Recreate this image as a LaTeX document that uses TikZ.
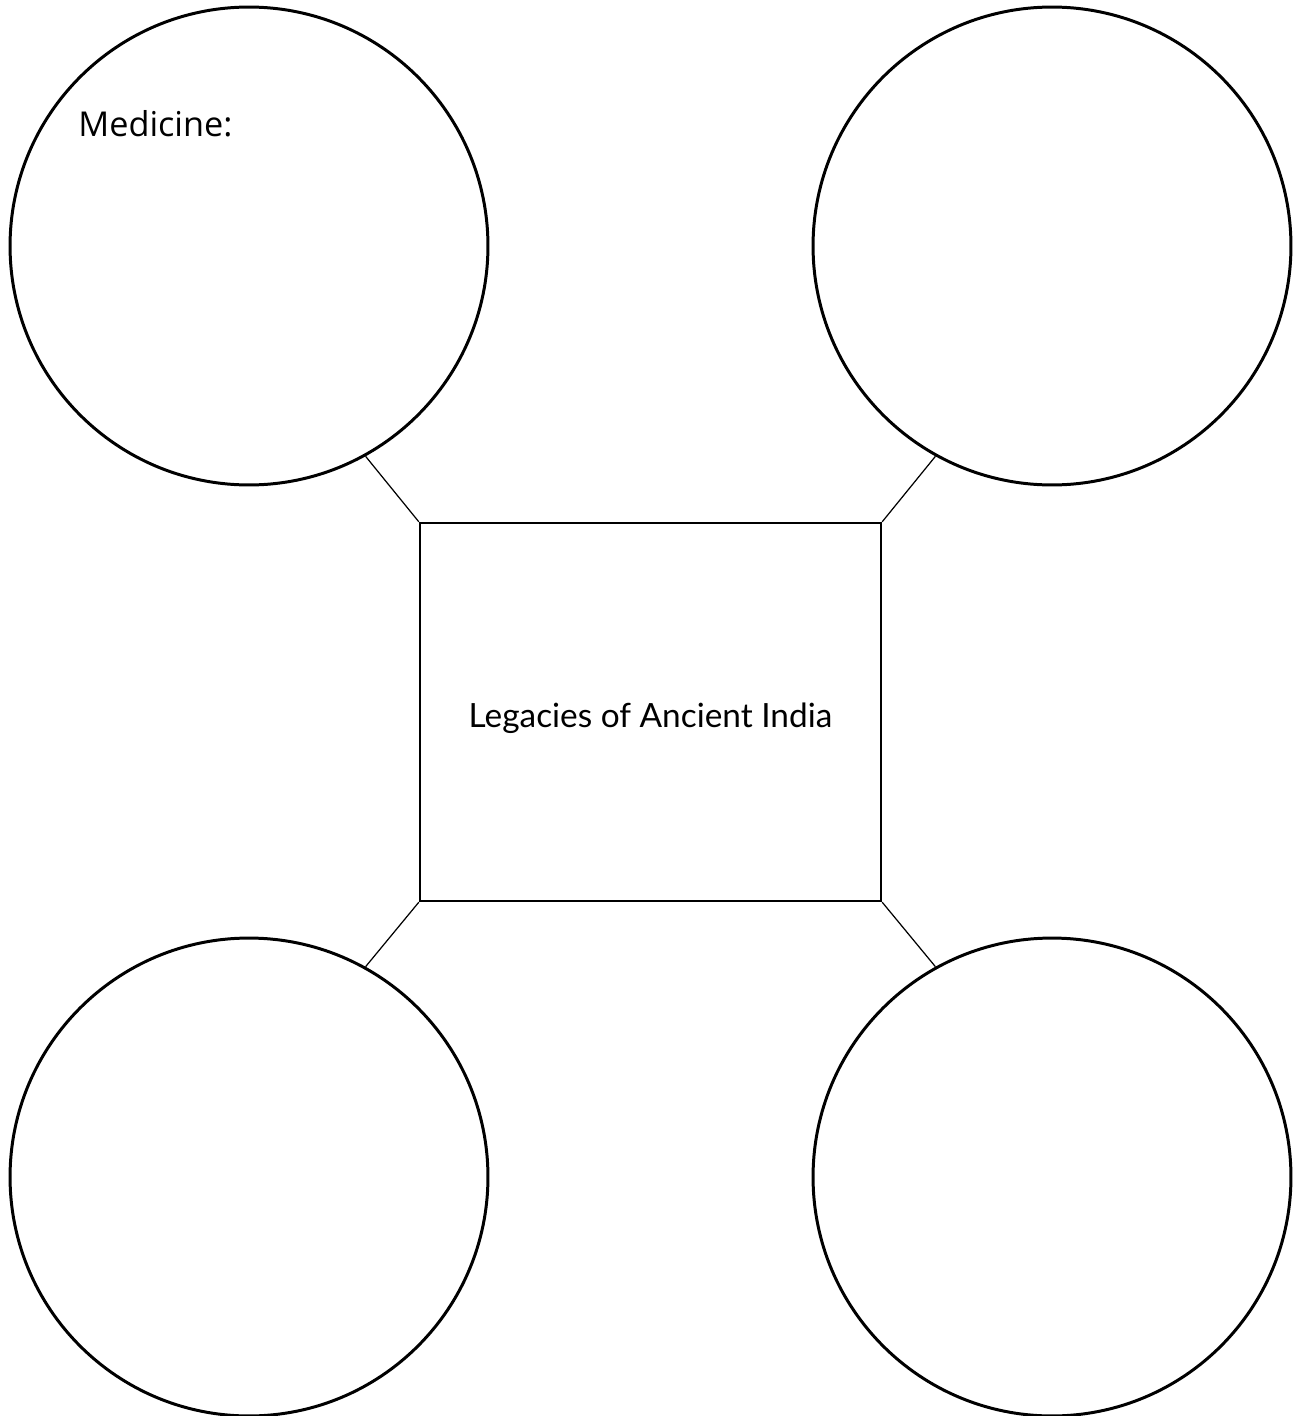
\documentclass[tikz,border=0pt]{standalone}
\usepackage{fontspec}
\setmainfont{Lato}
\newfontfamily\notefont{Open Sans}
\usetikzlibrary{positioning}

\begin{document}
\begin{tikzpicture}[
    x=0.02cm, y=-0.02cm,
    bubble/.style={circle, draw=black, line width=1.7pt,
                   minimum size=9.56cm, inner sep=0pt},
    topic/.style={rectangle, draw=black, line width=1.4pt,
                  minimum width=9.22cm, minimum height=7.56cm,
                  text height=0.77cm, text depth=0.14cm,
                  font=\fontsize{19}{22}\selectfont},
    link/.style={draw=black, line width=0.7pt}
  ]
  \useasboundingbox (0,0) rectangle (1294,1416);

  % centre box
  \node[topic] (legacy) at (650.5,712) {Legacies of Ancient India};

  % four bubbles round it
  \node[bubble] (tl) at (249,246) {};
  \node[bubble] (tr) at (1052,246) {};
  \node[bubble] (bl) at (249,1177) {};
  \node[bubble] (br) at (1052,1177) {};

  \node[anchor=base west, inner sep=0pt,
        font=\notefont\fontsize{19.5}{22}\selectfont]
       (medicine) at (78,136) {Medicine:};

  % spokes
  \draw[link] (legacy.north west) -- (tl.-61);
  \draw[link] (legacy.north east) -- (tr.-119);
  \draw[link] (legacy.south west) -- (bl.61);
  \draw[link] (legacy.south east) -- (br.119);
\end{tikzpicture}
\end{document}
